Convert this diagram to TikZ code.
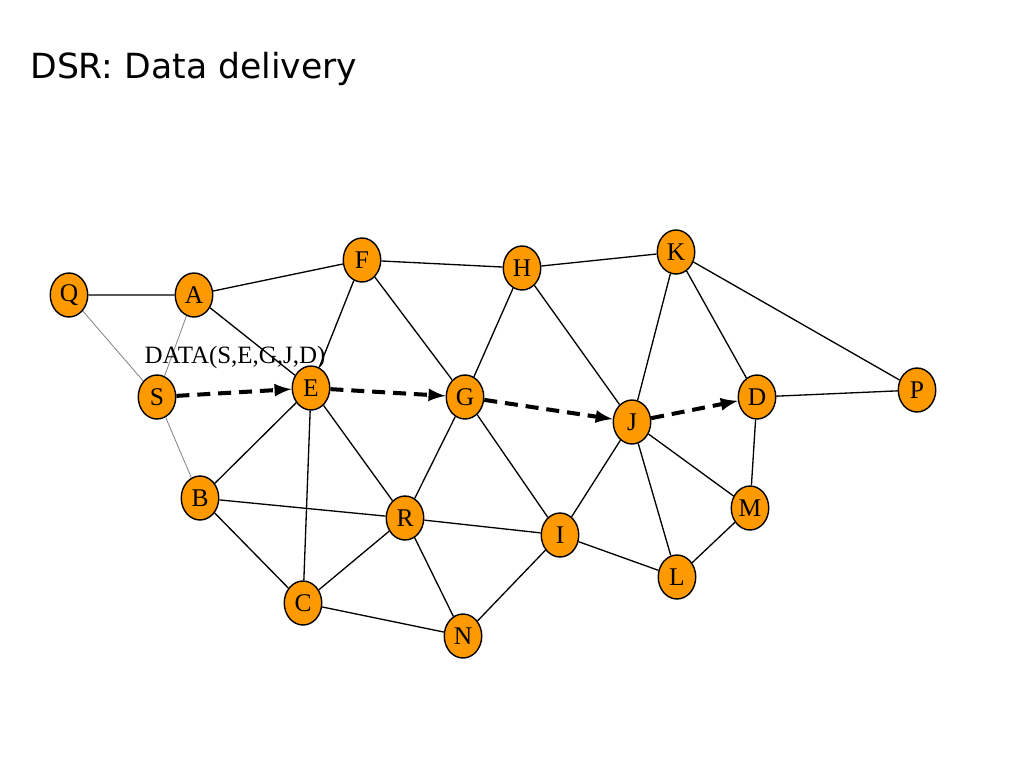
\documentclass[tikz,border=0pt]{standalone}
\usepackage{fontspec}
\setmainfont{Liberation Serif}
\newfontfamily\titlefont{DejaVu Sans}
\usetikzlibrary{shapes.geometric}
\definecolor{nodeOrange}{RGB}{255,153,0}
\tikzset{
  host/.style={ellipse,draw,fill=nodeOrange,line width=0.8pt,inner sep=0pt,
    minimum width=0.75cm,minimum height=0.88cm,font=\fontsize{14.5pt}{14pt}\selectfont},
  link/.style={line width=0.75pt},
  weak/.style={line width=0.45pt,gray},
  route/.style={->,line width=2.3pt,dash pattern=on 7.4pt off 4.5pt}
}
\begin{document}
\begin{tikzpicture}[x=0.02cm,y=-0.02cm,>=latex]
                \useasboundingbox (0,0) rectangle (1024,768);
                \node[anchor=base west,inner sep=0pt,font=\titlefont\fontsize{19.7pt}{22pt}\selectfont] (title) at (30,78) {DSR: Data delivery};
                % hosts
                \node[host] (Q) at (69,295) {Q};
                \node[host] (A) at (194,295) {A};
                \node[host] (F) at (362,260) {F};
                \node[host] (H) at (522,268) {H};
                \node[host] (K) at (676,252) {K};
                \node[host] (S) at (157,397) {S};
                \node[host] (E) at (311,388) {E};
                \node[host] (G) at (465,397) {G};
                \node[host] (J) at (632,422) {J};
                \node[host] (D) at (757,397) {D};
                \node[host] (P) at (917,390) {P};
                \node[host] (B) at (200,498) {B};
                \node[host] (R) at (405,518) {R};
                \node[host] (I) at (560,535) {I};
                \node[host] (M) at (750,508) {M};
                \node[host] (L) at (677,577) {L};
                \node[host] (C) at (303,603) {C};
                \node[host] (N) at (463,636) {N};
                % links
                \draw[link] (Q)--(A) (A)--(F) (A)--(E) (F)--(E) (F)--(H) (F)--(G);
                \draw[link] (H)--(K) (H)--(G) (H)--(J) (K)--(J) (K)--(D) (K)--(P);
                \draw[link] (D)--(P) (D)--(M) (J)--(M) (J)--(L) (J)--(I) (L)--(M);
                \draw[link] (E)--(B) (E)--(C) (E)--(R) (G)--(R) (G)--(I);
                \draw[link] (B)--(R) (R)--(I) (B)--(C) (C)--(R) (C)--(N) (R)--(N) (N)--(I) (I)--(L);
                \draw[weak] (Q)--(S) (A)--(S) (S)--(B);
                % data packet along the route
                \node[anchor=base,font=\fontsize{14.2pt}{14pt}\selectfont] (data) at (235,363) {DATA(S,E,G,J,D)};
                \draw[route] (S)--(E);
                \draw[route] (E)--(G);
                \draw[route] (G)--(J);
                \draw[route] (J)--(D);
            \end{tikzpicture}
\end{document}
